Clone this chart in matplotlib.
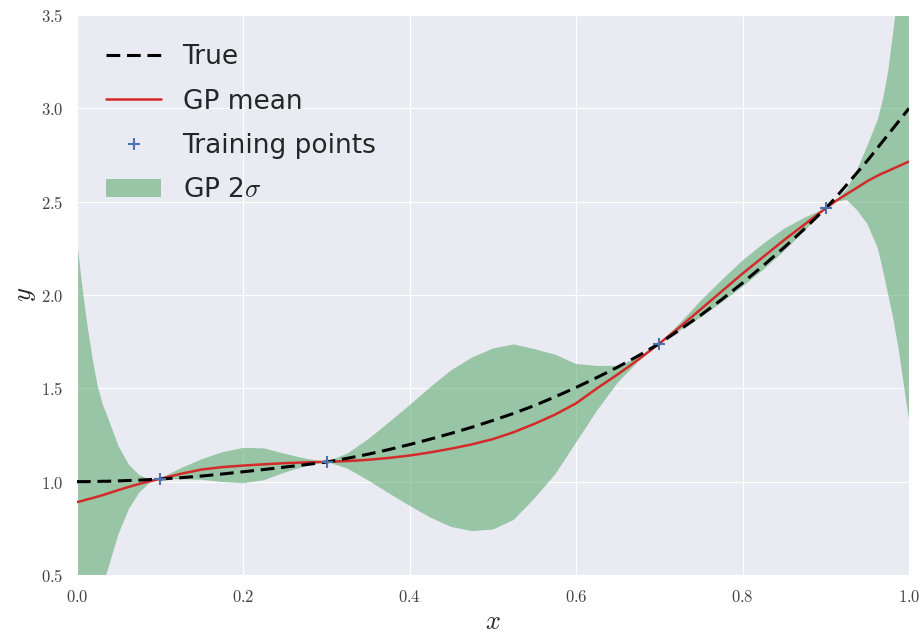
import matplotlib
matplotlib.use('Agg')
import matplotlib.pyplot as plt
from matplotlib.ticker import FuncFormatter
import seaborn as sns

# sample locations (finer near the ends where the band blows up)
xs = [0.0, 0.00625, 0.0125, 0.01875, 0.025, 0.03125, 0.0375, 0.05, 0.0625,
      0.075, 0.0875, 0.1,
      0.125, 0.15, 0.175, 0.2, 0.225, 0.25, 0.275, 0.3,
      0.325, 0.35, 0.375, 0.4, 0.425, 0.45, 0.475, 0.5,
      0.525, 0.55, 0.575, 0.6, 0.625, 0.65, 0.675, 0.7,
      0.725, 0.75, 0.775, 0.8, 0.825, 0.85, 0.875, 0.9,
      0.9125, 0.925, 0.9375, 0.95, 0.9625, 0.96875, 0.975, 0.98125,
      0.9875, 0.99375, 1.0]

y_true = [1.000, 1.000, 1.000, 1.001, 1.001, 1.002, 1.002, 1.004, 1.006,
          1.008, 1.011, 1.014,
          1.021, 1.030, 1.041, 1.053, 1.065, 1.078, 1.091, 1.105,
          1.125, 1.147, 1.172, 1.199, 1.228, 1.259, 1.292, 1.328,
          1.366, 1.408, 1.455, 1.505, 1.558, 1.614, 1.675, 1.740,
          1.815, 1.893, 1.976, 2.065, 2.158, 2.255, 2.357, 2.465,
          2.525, 2.590, 2.655, 2.720, 2.790, 2.825, 2.860, 2.895,
          2.930, 2.965, 3.000]

gp_mean = [0.890, 0.897, 0.905, 0.912, 0.920, 0.928, 0.937, 0.955, 0.972,
           0.988, 1.002, 1.015,
           1.042, 1.065, 1.078, 1.086, 1.093, 1.099, 1.103, 1.106,
           1.110, 1.117, 1.127, 1.140, 1.157, 1.177, 1.200, 1.228,
           1.265, 1.310, 1.360, 1.420, 1.500, 1.575, 1.655, 1.740,
           1.830, 1.925, 2.020, 2.115, 2.205, 2.295, 2.380, 2.465,
           2.505, 2.540, 2.575, 2.610, 2.640, 2.653, 2.665, 2.678,
           2.690, 2.703, 2.715]

band_lo = [-0.52, -0.255, -0.03, 0.165, 0.33, 0.445, 0.534, 0.72, 0.854,
           0.941, 0.994, 1.015,
           1.012, 1.010, 0.998, 0.991, 1.008, 1.049, 1.083, 1.106,
           1.070, 1.007, 0.937, 0.870, 0.807, 0.757, 0.735, 0.743,
           0.795, 0.910, 1.040, 1.210, 1.380, 1.530, 1.645, 1.740,
           1.810, 1.880, 1.960, 2.045, 2.135, 2.235, 2.345, 2.465,
           2.500, 2.510, 2.455, 2.380, 2.250, 2.130, 2.000, 1.870,
           1.710, 1.520, 1.330]

band_hi = [2.30, 2.05, 1.84, 1.66, 1.51, 1.41, 1.34, 1.19, 1.09,
           1.035, 1.010, 1.015,
           1.072, 1.120, 1.158, 1.181, 1.178, 1.149, 1.123, 1.106,
           1.150, 1.227, 1.317, 1.410, 1.507, 1.597, 1.665, 1.713,
           1.735, 1.710, 1.680, 1.630, 1.620, 1.620, 1.665, 1.740,
           1.850, 1.970, 2.080, 2.185, 2.275, 2.355, 2.415, 2.465,
           2.510, 2.565, 2.670, 2.800, 2.940, 3.050, 3.200, 3.420,
           3.650, 3.880, 4.100]

x_train = [0.1, 0.3, 0.7, 0.9]
y_train = [1.012, 1.103, 1.738, 2.466]

sns.set_style('darkgrid')
plt.rcParams['mathtext.fontset'] = 'cm'
plt.rcParams['font.family'] = ['DejaVu Sans']

fig = plt.figure(figsize=(9.24, 6.36), dpi=100)
ax = fig.add_axes([0.0833, 0.096, 0.9005, 0.8804])

ax.plot(xs, y_true, 'k--', lw=2.2, dashes=(4.5, 2.2), label='True', zorder=4)
ax.plot(xs, gp_mean, color='#d42a2a', lw=1.8, label='GP mean', zorder=3)
ax.plot(x_train, y_train, '+', color='#4c72b0', ms=8, mew=1.5,
        label='Training points', zorder=5)
ax.fill_between(xs, band_lo, band_hi, color='#55a868', alpha=0.55, lw=0,
                label=r'GP 2$\sigma$', zorder=2)

ax.set_xlim(0, 1)
ax.set_ylim(0.5, 3.5)
ax.set_xticks([0.0, 0.2, 0.4, 0.6, 0.8, 1.0])
ax.set_yticks([0.5, 1.0, 1.5, 2.0, 2.5, 3.0, 3.5])
fmt = FuncFormatter(lambda v, p: r'$%.1f$' % v)
ax.xaxis.set_major_formatter(fmt)
ax.yaxis.set_major_formatter(fmt)
ax.tick_params(labelsize=12, labelcolor='#444444', pad=6)

ax.set_xlabel(r'$x$', fontsize=19, labelpad=2)
ax.set_ylabel(r'$y$', fontsize=19, labelpad=2)

ax.legend(loc='upper left', fontsize=19, frameon=False, handlelength=2.1,
          borderaxespad=0.7, labelspacing=0.7)

fig.savefig('out.png', dpi=100)
